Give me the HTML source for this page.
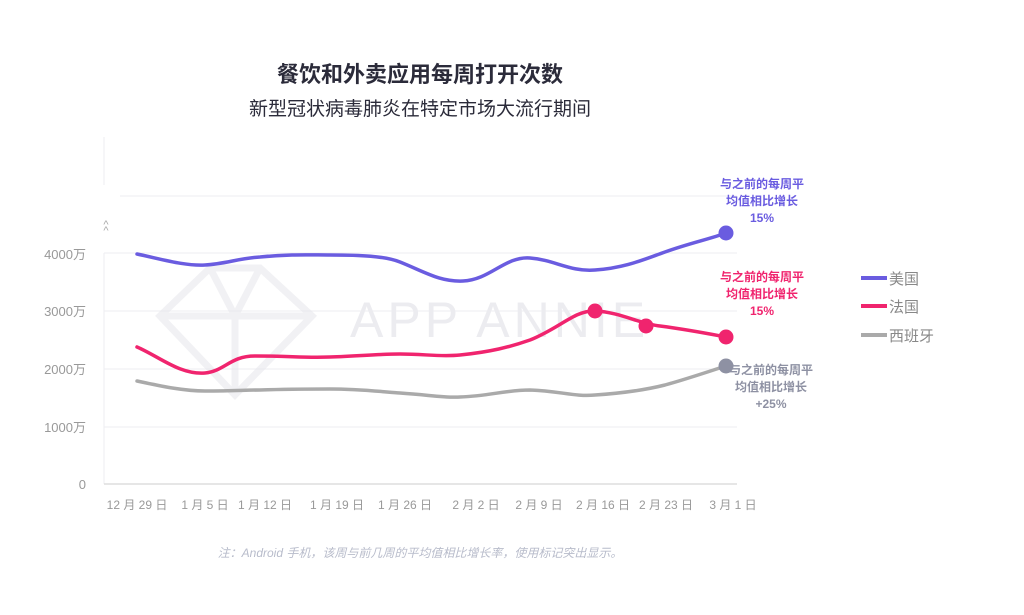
<!DOCTYPE html>
<html><head><meta charset="utf-8"><style>
body{margin:0;background:#fff;width:1024px;height:610px;overflow:hidden;font-family:"Liberation Sans","Noto Sans CJK SC",sans-serif}
</style></head><body>
<svg width="1024" height="610" viewBox="0 0 1024 610" xmlns="http://www.w3.org/2000/svg" font-family="Liberation Sans, Noto Sans CJK SC, sans-serif">
<text x="420" y="82" text-anchor="middle" font-size="22" font-weight="bold" fill="#2b2b3a">餐饮和外卖应用每周打开次数</text>
<text x="420" y="115" text-anchor="middle" font-size="19" fill="#2b2b3a">新型冠状病毒肺炎在特定市场大流行期间</text>
<g stroke="#eeeef2" stroke-width="1">
<line x1="104" y1="137" x2="104" y2="185"/>
<line x1="104" y1="253" x2="104" y2="484"/>
<line x1="120" y1="196" x2="737" y2="196"/>
<line x1="104" y1="253" x2="737" y2="253"/>
<line x1="104" y1="311" x2="737" y2="311"/>
<line x1="104" y1="369" x2="737" y2="369"/>
<line x1="104" y1="427" x2="737" y2="427"/>
</g>
<line x1="104" y1="484" x2="737" y2="484" stroke="#ddd" stroke-width="1.5"/>
<text x="106" y="228" font-size="11" fill="#aaa" text-anchor="middle">^</text>
<text x="106" y="234" font-size="11" fill="#aaa" text-anchor="middle">^</text>
<g font-size="13" fill="#999" text-anchor="end">
<text x="86" y="259">4000万</text><text x="86" y="316">3000万</text><text x="86" y="374">2000万</text><text x="86" y="432">1000万</text><text x="86" y="489">0</text>
</g>
<g opacity="0.5" stroke="#e4e4ea" stroke-width="7" fill="none">
<path d="M160 316 L210 268 L260 268 L312 316 L235 395 Z M160 316 L312 316 M210 268 L235 316 L260 268 M235 316 L235 395"/>
</g>
<text x="350" y="337" font-size="50" fill="#ececf0" letter-spacing="4">APP ANNIE</text>
<g font-size="12" fill="#999" text-anchor="middle">
<text x="137" y="509">12 月 29 日</text><text x="205" y="509">1 月 5 日</text><text x="265" y="509">1 月 12 日</text><text x="337" y="509">1 月 19 日</text><text x="405" y="509">1 月 26 日</text><text x="476" y="509">2 月 2 日</text><text x="539" y="509">2 月 9 日</text><text x="603" y="509">2 月 16 日</text><text x="666" y="509">2 月 23 日</text><text x="733" y="509">3 月 1 日</text>
</g>
<g fill="none" stroke-width="3.5" stroke-linecap="round">
<path stroke="#6a5ce0" d="M137 254 C165 260 185 266 205 265 C225 264 240 258 260 257 C290 254 310 255 330 255 C360 255 385 256 400 262 C425 272 440 282 463 281 C490 280 505 256 530 258 C555 260 570 272 595 270 C625 268 645 259 665 252 C690 243 710 239 726 233"/>
<path stroke="#f0246e" d="M137 347 C160 357 180 375 205 373 C225 371 230 356 255 356 C290 356 305 358 330 357 C360 356 380 354 400 354 C425 354 440 357 460 355 C490 352 510 347 530 340 C560 328 575 310 595 311 C620 312 640 324 660 326 C690 330 710 334 726 337"/>
<path stroke="#aaaaaa" d="M137 381 C165 387 185 391 205 391 C235 391 245 390 260 390 C290 389 310 389 330 389 C360 389 385 392 400 393 C430 395 445 398 460 397 C490 396 505 390 530 390 C560 391 575 397 595 395 C625 393 645 390 665 385 C690 378 710 371 726 366"/>
</g>
<circle cx="726" cy="233" r="7.5" fill="#6a5ce0"/>
<circle cx="595" cy="311" r="7.5" fill="#f0246e"/>
<circle cx="646" cy="326" r="7.5" fill="#f0246e"/>
<circle cx="726" cy="337" r="7.5" fill="#f0246e"/>
<circle cx="726" cy="366" r="7.5" fill="#8e91a3"/>
<g font-size="12" font-weight="bold" text-anchor="middle">
<g fill="#6a5ce0"><text x="762" y="188">与之前的每周平</text><text x="762" y="205">均值相比增长</text><text x="762" y="222">15%</text></g>
<g fill="#f0246e"><text x="762" y="281">与之前的每周平</text><text x="762" y="298">均值相比增长</text><text x="762" y="315">15%</text></g>
<g fill="#8e91a3"><text x="771" y="374">与之前的每周平</text><text x="771" y="391">均值相比增长</text><text x="771" y="408">+25%</text></g>
</g>
<g stroke-width="4">
<line x1="861" y1="278" x2="887" y2="278" stroke="#6a5ce0"/>
<line x1="861" y1="306" x2="887" y2="306" stroke="#f0246e"/>
<line x1="861" y1="335" x2="887" y2="335" stroke="#aaaaaa"/>
</g>
<g font-size="15" fill="#888">
<text x="889" y="284">美国</text><text x="889" y="312">法国</text><text x="889" y="341">西班牙</text>
</g>
<text x="420" y="557" text-anchor="middle" font-size="12" font-style="italic" fill="#b8bccb">注：Android 手机，该周与前几周的平均值相比增长率，使用标记突出显示。</text>
</svg>
</body></html>
